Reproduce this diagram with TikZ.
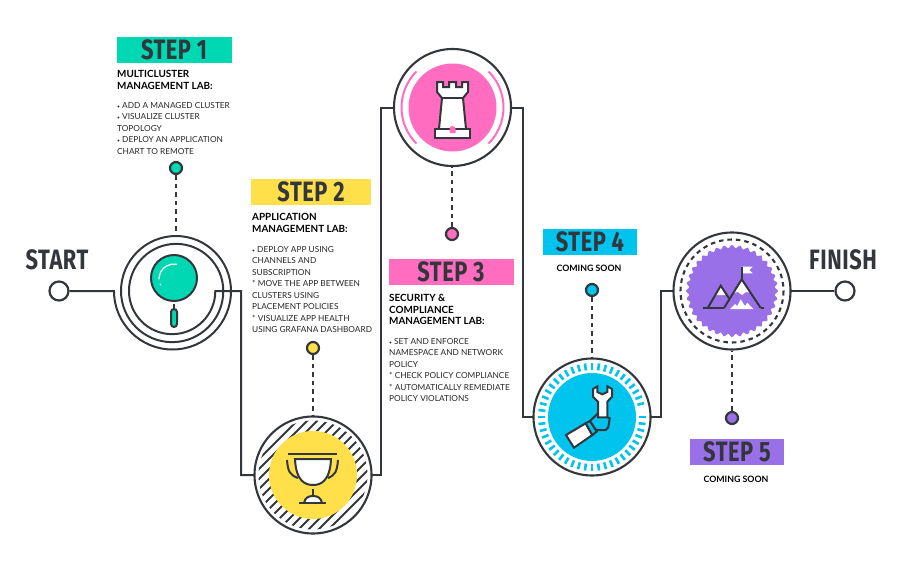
\documentclass[tikz,border=0pt]{standalone}
\usepackage{fontspec}
\setmainfont{Lato}
\newfontfamily\headfont[FakeStretch=0.78,LetterSpace=2]{Fira Sans}
\usetikzlibrary{positioning, calc}
\definecolor{ink}{HTML}{33363B}
\definecolor{tealc}{HTML}{00D7B3}
\definecolor{yellowc}{HTML}{FFE04A}
\definecolor{pinkc}{HTML}{FF6CC0}
\definecolor{bluec}{HTML}{00C4EE}
\definecolor{purplec}{HTML}{9A70E8}
\newcommand{\bul}{{\fontsize{5}{5}\selectfont\textbullet}}
\tikzset{
  wire/.style={draw=ink,line width=2pt},
  ring/.style={draw=ink,line width=2.1pt},
  icon/.style={draw=ink,line width=2pt,line join=miter},
  dots/.style={draw=ink,line width=2.2pt,dash pattern=on 4.5pt off 4pt},
  pin/.style={circle,draw=ink,line width=2.2pt,minimum size=12pt,inner sep=0pt},
  endpt/.style={circle,draw=ink,line width=2.2pt,fill=white,minimum size=19pt,inner sep=0pt},
  steplabel/.style={minimum width=#1,minimum height=26pt,inner sep=0pt,text=ink,font=\headfont\fontsize{28}{28}\selectfont\bfseries},
  bigword/.style={text=ink,font=\headfont\fontsize{28}{28}\selectfont\bfseries},
  txt/.style={align=left,anchor=north west,inner sep=0pt,text=black!85,font=\fontsize{8.3}{11.5}\selectfont},
  hd/.style={align=left,anchor=north west,inner sep=0pt,text=black,font=\fontsize{9.9}{11.2}\selectfont\bfseries},
  soon/.style={inner sep=0pt,text=black,font=\fontsize{8.8}{10}\selectfont\bfseries}
}
\begin{document}
\begin{tikzpicture}[x=1pt,y=-1pt]
  \useasboundingbox (0,0) rectangle (900,570);

  % wires
  \node[endpt] (start) at (59,291) {};
  \node[endpt] (finish) at (845,291) {};
  \coordinate (c2) at (313,475);
  \coordinate (c3) at (452.5,107.5);
  \coordinate (c4) at (592,417);
  \coordinate (c5) at (732,291);
  \draw[wire] (start) -- (114,291) arc (180:0:58.5) arc (0:-180:55) arc (180:0:51.15)
    arc (0:-180:47.15) arc (180:0:43.15) -- (241,291) -- (241,475) -- (254,475);
  \draw[wire] (372,475) -- (381,475) -- (381,108) -- (393,108);
  \draw[wire] (511,108) -- (523,108) -- (523,417) -- (533,417);
  \draw[wire] (651,417) -- (661,417) -- (661,291) -- (673,291);
  \draw[wire] (791,291) -- (finish);

  % step 1
  \node[pin,fill=tealc] (pin1) at (176,168) {};
  \draw[dots] (pin1) -- (176,236);
  \draw[icon,fill=tealc] (174,278) circle (23);
  \draw[white,line width=1.3pt,line cap=round] (159,279) arc (180:280:15);
  \draw[white,line width=1.3pt,line cap=round] (160,284) -- (161,285);
  \draw[icon,fill=tealc,rounded corners=3pt] (171,309) rectangle (177,327);
  \draw[icon] (174,304) -- (174,309);

  % step 2
  \node[pin,fill=yellowc] (pin2) at (313,348) {};
  \draw[dots] (pin2) -- (313,417);
  \begin{scope}
    \clip (c2) circle (54.5);
    \foreach \k in {-130,-120,...,130}
      \draw[ink,line width=2.1pt] ($(c2)+(\k-60,60)$) -- ++(120,-120);
  \end{scope}
  \draw[ring] (c2) circle (58.5);
  \fill[yellowc] (c2) circle (44);
  \draw[icon] (288,454) -- (337,454);
  \draw[icon,fill=white] (295,459) -- (331,459) .. controls (330,482) and (320,485) .. (313,485) .. controls (306,485) and (296,482) .. (295,459) -- cycle;
  \draw[icon] (287,460) .. controls (288,472) and (290,475) .. (298,478);
  \draw[icon] (338,460) .. controls (337,472) and (335,475) .. (328,478);
  \draw[icon] (313,489) -- (313,497);
  \draw[icon,fill=white] (304,503) .. controls (305,498) and (308,496) .. (313,496) .. controls (318,496) and (321,498) .. (322,503);
  \draw[icon] (299,503) -- (326,503);

  % step 3
  \node[pin,fill=pinkc] (pin3) at (452,234) {};
  \draw[dots] (pin3) -- (452,167);
  \draw[ring] (c3) circle (58.5);
  \fill[pinkc] (c3) circle (44);
  \draw[pinkc,line width=2pt] (c3)++(135:51) arc (135:225:51);
  \draw[pinkc,line width=2pt] (c3)++(45:51) arc (45:-45:51);
  \draw[icon,fill=white] (437,82) -- (443,82) -- (443,87) -- (449,87) -- (449,82) -- (456,82) -- (456,87) -- (462,87) -- (462,82) -- (468,82)
    -- (468,92) -- (463,98) -- (466,129) -- (439,129) -- (442,98) -- (437,92) -- cycle;
  \draw[icon] (442,98) -- (463,98);
  \draw[icon,fill=white] (435,129) rectangle (470,138);
  \fill[pinkc] (449.5,133) -- (449.5,129) arc (180:360:3) -- (455.5,133) -- cycle;

  % step 4
  \node[pin,fill=bluec] (pin4) at (592,290) {};
  \draw[dots] (pin4) -- (592,358);
  \draw[ring] (c4) circle (58.5);
  \foreach \a in {0,7.5,...,352}
    \draw[bluec,line width=2.6pt] ($(c4)+(\a:47)$) -- ($(c4)+(\a:54)$);
  \fill[bluec] (c4) circle (44);
  \draw[icon,fill=white] (566,435) -- (585.7,423.3) -- (592.3,435) -- (574,447.7) -- cycle;
  \draw[icon,fill=bluec] (585.7,423.3) -- (590,421) -- (596.7,431.7) -- (592.3,435) -- cycle;
  \draw[icon,fill=bluec] (590,421) -- (598.3,413) -- (609.7,418.3) -- (608.3,427.3) -- (605.7,430) -- (596,430) -- cycle;
  \draw[icon,fill=white] (593,389) -- (597.3,386.3) -- (597.3,392) -- (602.3,394.3) -- (607.3,392) -- (607.3,386.3) -- (612,389) -- (612,396.7) -- (607.3,401.7) -- (607.3,417.3) -- (598,417.3) -- (598,401.7) -- (593,396.7) -- cycle;

  % step 5
  \node[pin,fill=purplec] (pin5) at (732,418) {};
  \draw[dots] (pin5) -- (732,351);
  \draw[ring] (c5) circle (58.5);
  \draw[ring,dash pattern=on 4.5pt off 4pt] (c5) circle (51.5);
  \fill[purplec] plot[domain=0:360,samples=289,variable=\t,smooth] ({732+(44.5+1.5*cos(36*\t))*cos(\t)},{291+(44.5+1.5*cos(36*\t))*sin(\t)}) -- cycle;
  \fill[white] (741.7,266.7) -- (752.7,266.7) -- (749.5,270) -- (752.7,273.3) -- (741.7,273.3) -- cycle;
  \fill[white] (741.7,279.3) -- (751,293) -- (746,292) -- (742,295) -- (738,292) -- (733,293) -- cycle;
  \fill[white] (720.7,285.7) -- (726.8,295) -- (715.2,295) -- cycle;
  \fill[white] (730,309) -- (735,304) -- (737.3,306) -- (740.7,299.3) -- (745,306) -- (747.3,302.7) -- (753.3,309) -- cycle;
  \draw[icon] (741.7,266.7) -- (741.7,279.3);
  \draw[icon] (703,308) -- (724,308);
  \draw[icon] (760.7,308) -- (764,308);
  \draw[icon] (707.7,308) -- (720.7,285.7) -- (729,298.3);
  \draw[icon] (724,308) -- (741.7,279.3) -- (760.7,308);

  % titles
  \node[bigword] (lstart) at (57,260) {START};
  \node[bigword] (lfinish) at (843,260) {FINISH};
  \node[steplabel=115pt,fill=tealc] (s1) at (174,50) {STEP 1};
  \node[steplabel=120pt,fill=yellowc] (s2) at (311,192) {STEP 2};
  \node[steplabel=125pt,fill=pinkc] (s3) at (451,272) {STEP 3};
  \node[steplabel=94pt,fill=bluec] (s4) at (590,242) {STEP 4};
  \node[steplabel=94pt,fill=purplec] (s5) at (737,452) {STEP 5};

  % text
  \node[hd] (h1) at (117,70.5) {MULTICLUSTER\\MANAGEMENT LAB:};
  \node[txt] (t1) at (117,102) {\bul{} ADD A MANAGED CLUSTER\\\bul{} VISUALIZE CLUSTER\\TOPOLOGY\\\bul{} DEPLOY AN APPLICATION\\CHART TO REMOTE};
  \node[hd] (h2) at (252,213.5) {APPLICATION\\MANAGEMENT LAB:};
  \node[txt] (t2) at (252,246) {\bul{} DEPLOY APP USING\\CHANNELS AND\\SUBSCRIPTION\\* MOVE THE APP BETWEEN\\CLUSTERS USING\\PLACEMENT POLICIES\\* VISUALIZE APP HEALTH\\USING GRAFANA DASHBOARD};
  \node[hd] (h3) at (389,294.5) {SECURITY \&\\COMPLIANCE\\MANAGEMENT LAB:};
  \node[txt] (t3) at (389,338) {\bul{} SET AND ENFORCE\\NAMESPACE AND NETWORK\\POLICY\\* CHECK POLICY COMPLIANCE\\* AUTOMATICALLY REMEDIATE\\POLICY VIOLATIONS};
  \node[soon] (n4) at (589,268.5) {COMING SOON};
  \node[soon] (n5) at (736,479.5) {COMING SOON};
\end{tikzpicture}
\end{document}
